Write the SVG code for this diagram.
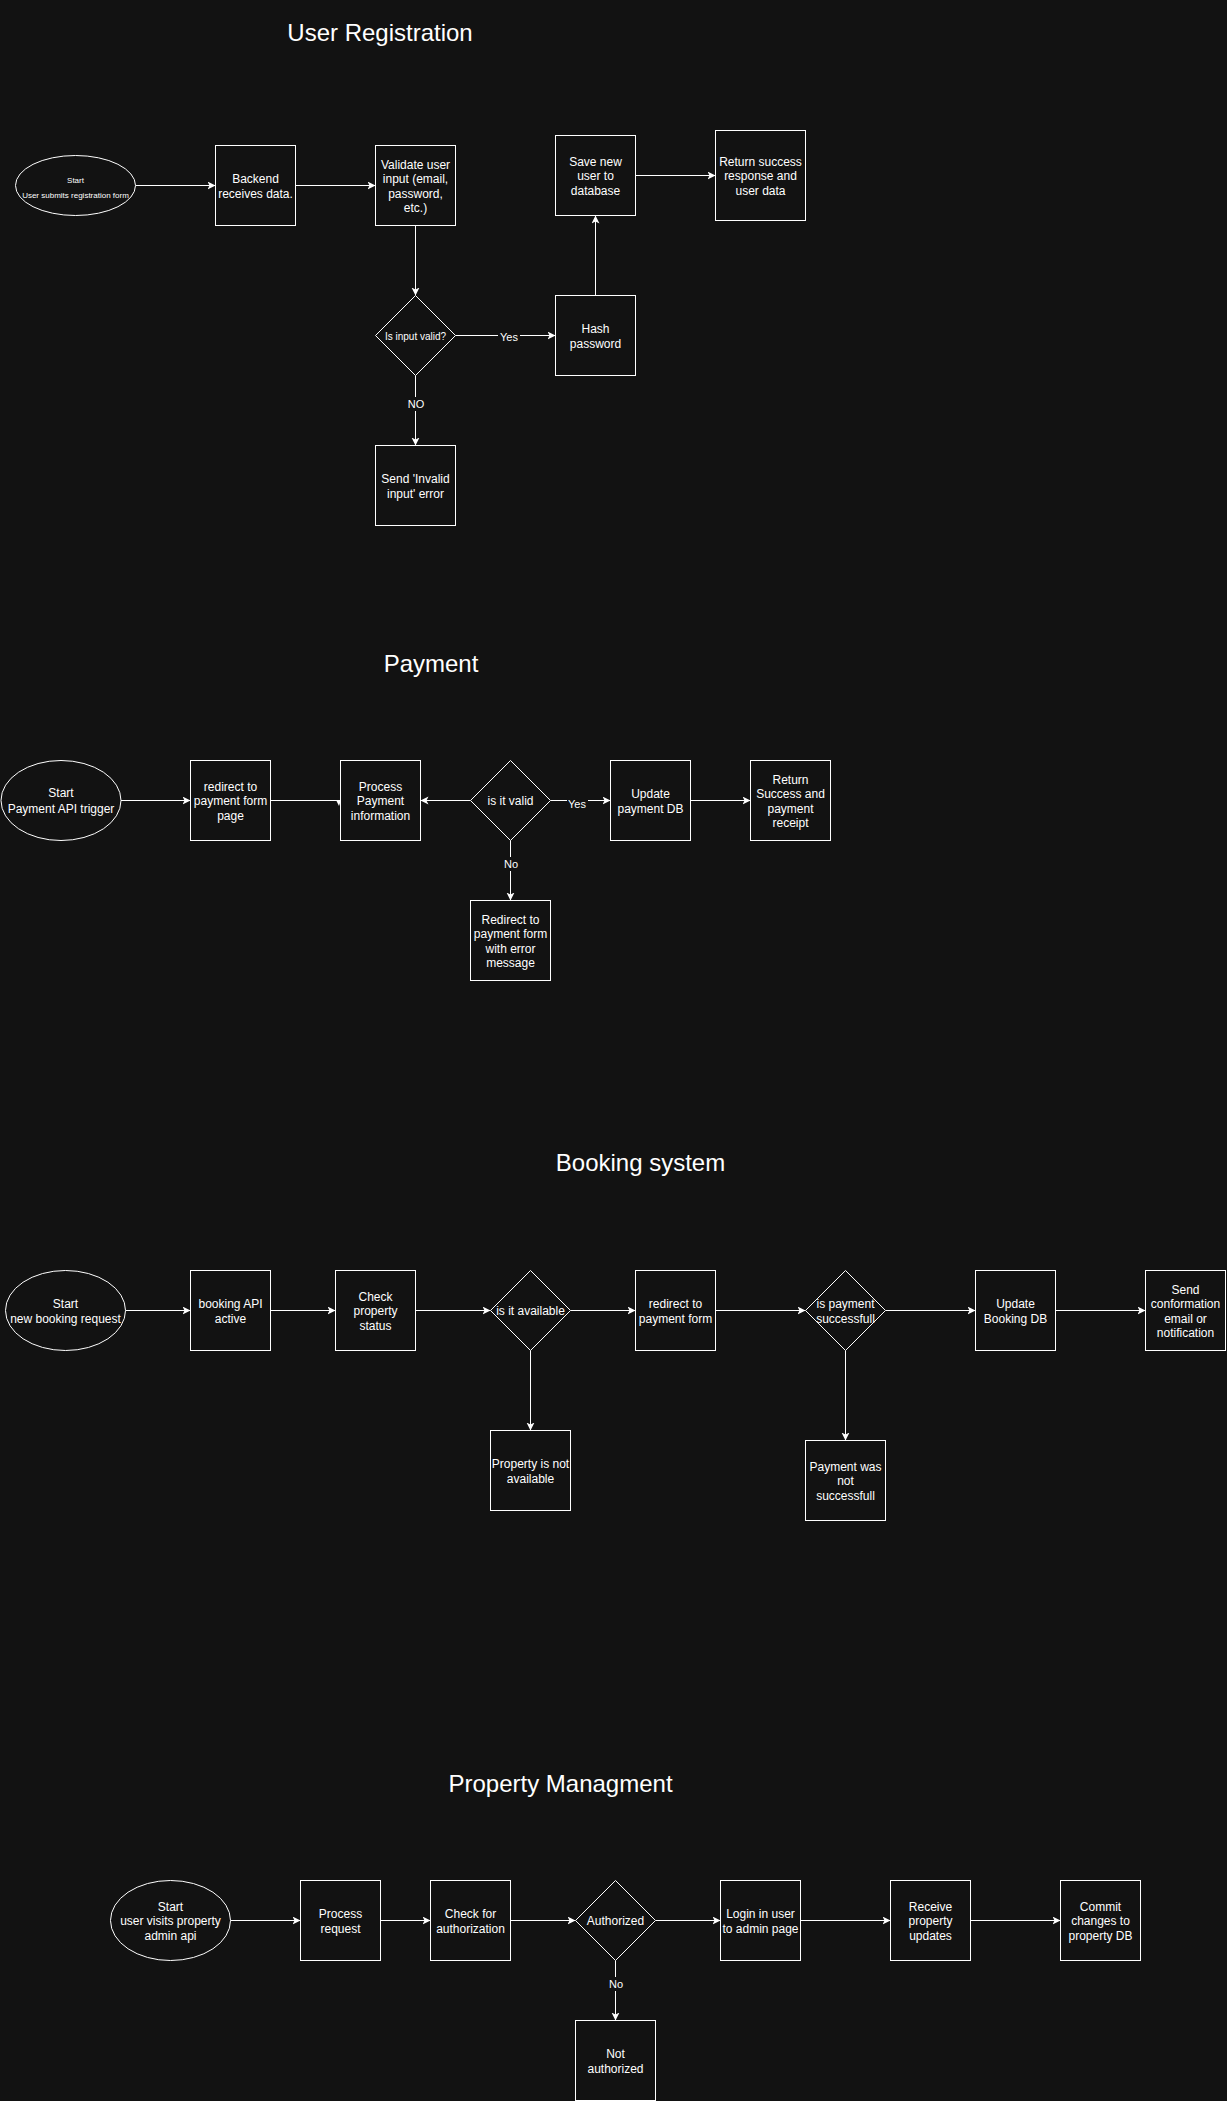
<svg xmlns="http://www.w3.org/2000/svg" width="1227" height="2101" viewBox="0 0 1227 2101">
<defs>
<style>
.bg{fill:#121212}
.n{fill:#121212;stroke:#ffffff;stroke-width:1}
.t{fill:#ffffff;font-family:"Liberation Sans",Arial,Helvetica,sans-serif;font-size:12px;text-anchor:middle;dominant-baseline:central}
.s8{font-size:8px}
.s10{font-size:10px}
.lbl{fill:#ffffff;font-family:"Liberation Sans",Arial,Helvetica,sans-serif;font-size:11px;text-anchor:middle;dominant-baseline:central}
.title{fill:#ffffff;font-family:"Liberation Sans",Arial,Helvetica,sans-serif;font-size:24px;text-anchor:middle}
.e{fill:none;stroke:#ffffff;stroke-width:1;marker-end:url(#arr)}
.ln{fill:none;stroke:#ffffff;stroke-width:1}
</style>
<marker id="arr" markerWidth="10" markerHeight="10" refX="8" refY="4" orient="auto" markerUnits="userSpaceOnUse"><path d="M0,0 L8,4 L0,8 L2,4 Z" fill="#ffffff"/></marker>
</defs>
<rect class="bg" x="0" y="0" width="1227" height="2101"/>

<g id="titles">
<text class="title" x="380" y="41">User Registration</text>
<text class="title" x="431" y="671.5">Payment</text>
<text class="title" x="640.5" y="1170.5">Booking system</text>
<text class="title" x="560.5" y="1791.5">Property Managment</text>
</g>

<g id="connectors">
<!-- User Registration -->
<path class="e" d="M135.5,185.5 H215.5"/>
<path class="e" d="M295.5,185.5 H375.5"/>
<path class="e" d="M415.5,225.5 V295.5"/>
<path class="e" d="M455.5,335.5 H555.5"/>
<path class="e" d="M595.5,295.5 V215.5"/>
<path class="e" d="M635.5,175.5 H715.5"/>
<path class="e" d="M415.5,375.5 V445.5"/>
<rect class="bg" x="498" y="329" width="22" height="14"/>
<text class="lbl" x="509" y="336.5">Yes</text>
<rect class="bg" x="406" y="397" width="20" height="14"/>
<text class="lbl" x="416" y="404">NO</text>
<!-- Payment -->
<path class="e" d="M121,800.5 H190.5"/>
<path class="ln" d="M270.5,800.5 H340.5"/>
<polygon points="336,800 341,800 339,806" fill="#ffffff"/>
<path class="e" d="M470.5,800.5 H420.5"/>
<path class="e" d="M550.5,800.5 H610.5"/>
<path class="e" d="M690.5,800.5 H750.5"/>
<path class="e" d="M510.5,840.5 V900.5"/>
<rect class="bg" x="567" y="797" width="21" height="14"/>
<text class="lbl" x="577" y="804">Yes</text>
<rect class="bg" x="501" y="857" width="19" height="14"/>
<text class="lbl" x="511" y="864">No</text>
<!-- Booking -->
<path class="e" d="M125.5,1310.5 H190.5"/>
<path class="e" d="M270.5,1310.5 H335.5"/>
<path class="e" d="M415.5,1310.5 H490.5"/>
<path class="e" d="M570.5,1310.5 H635.5"/>
<path class="e" d="M715.5,1310.5 H805.5"/>
<path class="e" d="M885.5,1310.5 H975.5"/>
<path class="e" d="M1055.5,1310.5 H1145.5"/>
<path class="e" d="M530.5,1350.5 V1430.5"/>
<path class="e" d="M845.5,1350.5 V1440.5"/>
<!-- Property Management -->
<path class="e" d="M230.5,1920.5 H300.5"/>
<path class="e" d="M380.5,1920.5 H430.5"/>
<path class="e" d="M510.5,1920.5 H575.5"/>
<path class="e" d="M655.5,1920.5 H720.5"/>
<path class="e" d="M800.5,1920.5 H890.5"/>
<path class="e" d="M970.5,1920.5 H1060.5"/>
<path class="e" d="M615.5,1960.5 V2020.5"/>
<rect class="bg" x="606" y="1977" width="19" height="14"/>
<text class="lbl" x="616" y="1984">No</text>
</g>

<!-- User Registration nodes -->
<g id="ur-start"><ellipse class="n" cx="75.5" cy="185.5" rx="60" ry="30"/>
<text class="t s8" x="75.5" y="180">Start</text><text class="t s8" x="75.5" y="195">User submits registration form</text></g>
<g id="ur-backend"><rect class="n" x="215.5" y="145.5" width="80" height="80"/>
<text class="t" x="255.5"><tspan x="255.5" y="179">Backend</tspan><tspan x="255.5" y="194">receives data.</tspan></text></g>
<g id="ur-validate"><rect class="n" x="375.5" y="145.5" width="80" height="80"/>
<text class="t" x="415.5"><tspan x="415.5" y="164.5">Validate user</tspan><tspan x="415.5" y="179">input (email,</tspan><tspan x="415.5" y="193.5">password,</tspan><tspan x="415.5" y="208">etc.)</tspan></text></g>
<g id="ur-valid"><path class="n" d="M415.5,295.5 L455.5,335.5 L415.5,375.5 L375.5,335.5 Z"/>
<text class="t s10" x="415.5" y="336">Is input valid?</text></g>
<g id="ur-hash"><rect class="n" x="555.5" y="295.5" width="80" height="80"/>
<text class="t"><tspan x="595.5" y="328.5">Hash</tspan><tspan x="595.5" y="343.5">password</tspan></text></g>
<g id="ur-save"><rect class="n" x="555.5" y="135.5" width="80" height="80"/>
<text class="t"><tspan x="595.5" y="161.5">Save new</tspan><tspan x="595.5" y="176">user to</tspan><tspan x="595.5" y="190.5">database</tspan></text></g>
<g id="ur-return"><rect class="n" x="715.5" y="130.5" width="90" height="90"/>
<text class="t"><tspan x="760.5" y="161.5">Return success</tspan><tspan x="760.5" y="176">response and</tspan><tspan x="760.5" y="190.5">user data</tspan></text></g>
<g id="ur-invalid"><rect class="n" x="375.5" y="445.5" width="80" height="80"/>
<text class="t"><tspan x="415.5" y="478.5">Send 'Invalid</tspan><tspan x="415.5" y="493.5">input' error</tspan></text></g>

<!-- Payment nodes -->
<g id="pay-start"><ellipse class="n" cx="61" cy="800.5" rx="60" ry="40"/>
<text class="t"><tspan x="61" y="793">Start</tspan><tspan x="61" y="808.5">Payment API trigger</tspan></text></g>
<g id="pay-redirect"><rect class="n" x="190.5" y="760.5" width="80" height="80"/>
<text class="t"><tspan x="230.5" y="786.5">redirect to</tspan><tspan x="230.5" y="801">payment form</tspan><tspan x="230.5" y="815.5">page</tspan></text></g>
<g id="pay-process"><rect class="n" x="340.5" y="760.5" width="80" height="80"/>
<text class="t"><tspan x="380.5" y="786.5">Process</tspan><tspan x="380.5" y="801">Payment</tspan><tspan x="380.5" y="815.5">information</tspan></text></g>
<g id="pay-valid"><path class="n" d="M510.5,760.5 L550.5,800.5 L510.5,840.5 L470.5,800.5 Z"/>
<text class="t" x="510.5" y="800.5">is it valid</text></g>
<g id="pay-update"><rect class="n" x="610.5" y="760.5" width="80" height="80"/>
<text class="t"><tspan x="650.5" y="793.5">Update</tspan><tspan x="650.5" y="808.5">payment DB</tspan></text></g>
<g id="pay-return"><rect class="n" x="750.5" y="760.5" width="80" height="80"/>
<text class="t"><tspan x="790.5" y="779.5">Return</tspan><tspan x="790.5" y="794">Success and</tspan><tspan x="790.5" y="808.5">payment</tspan><tspan x="790.5" y="822.5">receipt</tspan></text></g>
<g id="pay-error"><rect class="n" x="470.5" y="900.5" width="80" height="80"/>
<text class="t"><tspan x="510.5" y="919.5">Redirect to</tspan><tspan x="510.5" y="934">payment form</tspan><tspan x="510.5" y="948.5">with error</tspan><tspan x="510.5" y="962.5">message</tspan></text></g>

<!-- Booking nodes -->
<g id="bk-start"><ellipse class="n" cx="65.5" cy="1310.5" rx="60" ry="40"/>
<text class="t"><tspan x="65.5" y="1303.5">Start</tspan><tspan x="65.5" y="1318.5">new booking request</tspan></text></g>
<g id="bk-api"><rect class="n" x="190.5" y="1270.5" width="80" height="80"/>
<text class="t"><tspan x="230.5" y="1303.5">booking API</tspan><tspan x="230.5" y="1318.5">active</tspan></text></g>
<g id="bk-check"><rect class="n" x="335.5" y="1270.5" width="80" height="80"/>
<text class="t"><tspan x="375.5" y="1296.5">Check</tspan><tspan x="375.5" y="1311">property</tspan><tspan x="375.5" y="1325.5">status</tspan></text></g>
<g id="bk-available"><path class="n" d="M530.5,1270.5 L570.5,1310.5 L530.5,1350.5 L490.5,1310.5 Z"/>
<text class="t" x="530.5" y="1310.5">is it available</text></g>
<g id="bk-redirect"><rect class="n" x="635.5" y="1270.5" width="80" height="80"/>
<text class="t"><tspan x="675.5" y="1303.5">redirect to</tspan><tspan x="675.5" y="1318.5">payment form</tspan></text></g>
<g id="bk-paid"><path class="n" d="M845.5,1270.5 L885.5,1310.5 L845.5,1350.5 L805.5,1310.5 Z"/>
<text class="t"><tspan x="845.5" y="1303.5">is payment</tspan><tspan x="845.5" y="1318.5">successfull</tspan></text></g>
<g id="bk-update"><rect class="n" x="975.5" y="1270.5" width="80" height="80"/>
<text class="t"><tspan x="1015.5" y="1303.5">Update</tspan><tspan x="1015.5" y="1318.5">Booking DB</tspan></text></g>
<g id="bk-send"><rect class="n" x="1145.5" y="1270.5" width="80" height="80"/>
<text class="t"><tspan x="1185.5" y="1289.5">Send</tspan><tspan x="1185.5" y="1304">conformation</tspan><tspan x="1185.5" y="1318.5">email or</tspan><tspan x="1185.5" y="1332.5">notification</tspan></text></g>
<g id="bk-notavail"><rect class="n" x="490.5" y="1430.5" width="80" height="80"/>
<text class="t"><tspan x="530.5" y="1463.5">Property is not</tspan><tspan x="530.5" y="1478.5">available</tspan></text></g>
<g id="bk-payfail"><rect class="n" x="805.5" y="1440.5" width="80" height="80"/>
<text class="t"><tspan x="845.5" y="1466.5">Payment was</tspan><tspan x="845.5" y="1481">not</tspan><tspan x="845.5" y="1495.5">successfull</tspan></text></g>

<!-- Property Management nodes -->
<g id="pm-start"><ellipse class="n" cx="170.5" cy="1920.5" rx="60" ry="40"/>
<text class="t"><tspan x="170.5" y="1906.5">Start</tspan><tspan x="170.5" y="1921">user visits property</tspan><tspan x="170.5" y="1935.5">admin api</tspan></text></g>
<g id="pm-process"><rect class="n" x="300.5" y="1880.5" width="80" height="80"/>
<text class="t"><tspan x="340.5" y="1913.5">Process</tspan><tspan x="340.5" y="1928.5">request</tspan></text></g>
<g id="pm-check"><rect class="n" x="430.5" y="1880.5" width="80" height="80"/>
<text class="t"><tspan x="470.5" y="1913.5">Check for</tspan><tspan x="470.5" y="1928.5">authorization</tspan></text></g>
<g id="pm-auth"><path class="n" d="M615.5,1880.5 L655.5,1920.5 L615.5,1960.5 L575.5,1920.5 Z"/>
<text class="t" x="615.5" y="1920.5">Authorized</text></g>
<g id="pm-login"><rect class="n" x="720.5" y="1880.5" width="80" height="80"/>
<text class="t"><tspan x="760.5" y="1913.5">Login in user</tspan><tspan x="760.5" y="1928.5">to admin page</tspan></text></g>
<g id="pm-receive"><rect class="n" x="890.5" y="1880.5" width="80" height="80"/>
<text class="t"><tspan x="930.5" y="1906.5">Receive</tspan><tspan x="930.5" y="1921">property</tspan><tspan x="930.5" y="1935.5">updates</tspan></text></g>
<g id="pm-commit"><rect class="n" x="1060.5" y="1880.5" width="80" height="80"/>
<text class="t"><tspan x="1100.5" y="1906.5">Commit</tspan><tspan x="1100.5" y="1921">changes to</tspan><tspan x="1100.5" y="1935.5">property DB</tspan></text></g>
<g id="pm-notauth"><rect class="n" x="575.5" y="2020.5" width="80" height="80"/>
<text class="t"><tspan x="615.5" y="2053.5">Not</tspan><tspan x="615.5" y="2068.5">authorized</tspan></text></g>
</svg>
